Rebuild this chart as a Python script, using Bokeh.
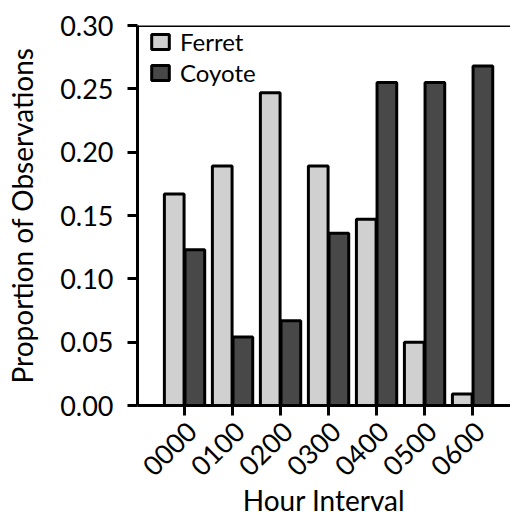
import math
from bokeh.plotting import figure
from bokeh.models import (Range1d, FixedTicker, NumeralTickFormatter, Span, ColumnDataSource,
                          Legend, LegendItem, LinearAxis)
from bokeh.transform import dodge
from bokeh.embed import file_html
from bokeh.resources import INLINE

hours = ["0000", "0100", "0200", "0300", "0400", "0500", "0600"]
ferret = [0.167, 0.189, 0.247, 0.189, 0.147, 0.050, 0.009]
coyote = [0.123, 0.054, 0.067, 0.136, 0.255, 0.255, 0.268]
y_ticks = [0.0, 0.05, 0.10, 0.15, 0.20, 0.25, 0.30]

FONT = "Lato"
X0, X1 = -0.98, 6.79
LABEL_SHIFT = 0.15  # horizontal nudge of rotated tick labels (in category widths)

src = ColumnDataSource(dict(x=list(range(len(hours))), ferret=ferret, coyote=coyote))

p = figure(width=510, height=520, output_backend="svg", toolbar_location=None,
           x_range=Range1d(X0, X1), y_range=Range1d(0, 0.30),
           min_border_left=137, min_border_top=25, min_border_right=0, min_border_bottom=115)
p.extra_x_ranges = {"lab": Range1d(X0 - LABEL_SHIFT, X1 - LABEL_SHIFT)}
p.outline_line_color = None
p.xgrid.grid_line_color = None
p.ygrid.grid_line_color = None
p.background_fill_color = "white"
p.border_fill_color = "white"

bw = 0.41
r1 = p.vbar(x=dodge("x", -0.215), top="ferret", width=bw, source=src,
            fill_color="#d0d0d0", line_color="black", line_width=3)
r2 = p.vbar(x=dodge("x", 0.215), top="coyote", width=bw, source=src,
            fill_color="#484848", line_color="black", line_width=3)

legend = Legend(items=[LegendItem(label="Ferret", renderers=[r1]),
                       LegendItem(label="Coyote", renderers=[r2])],
                location=(12, 318))
legend.border_line_color = None
legend.background_fill_alpha = 0
legend.label_text_font = FONT
legend.label_text_font_size = "24px"
legend.label_text_color = "black"
legend.glyph_width = 22
legend.glyph_height = 19
legend.spacing = 2
legend.margin = 0
legend.padding = 0
legend.label_standoff = 9
p.add_layout(legend)

p.add_layout(Span(location=0.30, dimension="width", line_color="black", line_width=3))

yax = p.yaxis[0]
yax.ticker = FixedTicker(ticks=y_ticks)
yax.formatter = NumeralTickFormatter(format="0.00")
yax.axis_label = "Proportion of Observations"

# axis with the line and tick marks (its own labels are not drawn)
xax = p.xaxis[0]
xax.ticker = FixedTicker(ticks=list(range(len(hours))))
xax.major_label_text_color = None
xax.major_label_standoff = 0

# axis carrying the rotated labels and title
lab = LinearAxis(x_range_name="lab")
lab.ticker = FixedTicker(ticks=list(range(len(hours))))
lab.major_label_overrides = {i: h for i, h in enumerate(hours)}
lab.major_label_orientation = math.pi / 4
lab.axis_label = "Hour Interval"
lab.axis_line_color = None
lab.major_tick_line_color = None
lab.minor_tick_line_color = None
lab.major_tick_out = 0
lab.major_tick_in = 0
p.add_layout(lab, "below")

for ax in (xax, yax):
    ax.axis_line_width = 3
    ax.axis_line_color = "black"
    ax.major_tick_line_width = 3
    ax.major_tick_line_color = "black"
    ax.major_tick_out = 10
    ax.major_tick_in = 0
    ax.minor_tick_line_color = None
for ax in (lab, yax):
    ax.major_label_text_font = FONT
    ax.major_label_text_font_size = "27px"
    ax.major_label_text_color = "black"
    ax.axis_label_text_font = FONT
    ax.axis_label_text_font_size = "28px"
    ax.axis_label_text_font_style = "normal"
    ax.axis_label_text_color = "black"
yax.major_label_standoff = 14
yax.axis_label_standoff = 18
lab.major_label_standoff = 11
lab.axis_label_standoff = -5

open("out.html", "w").write(file_html(p, INLINE))
